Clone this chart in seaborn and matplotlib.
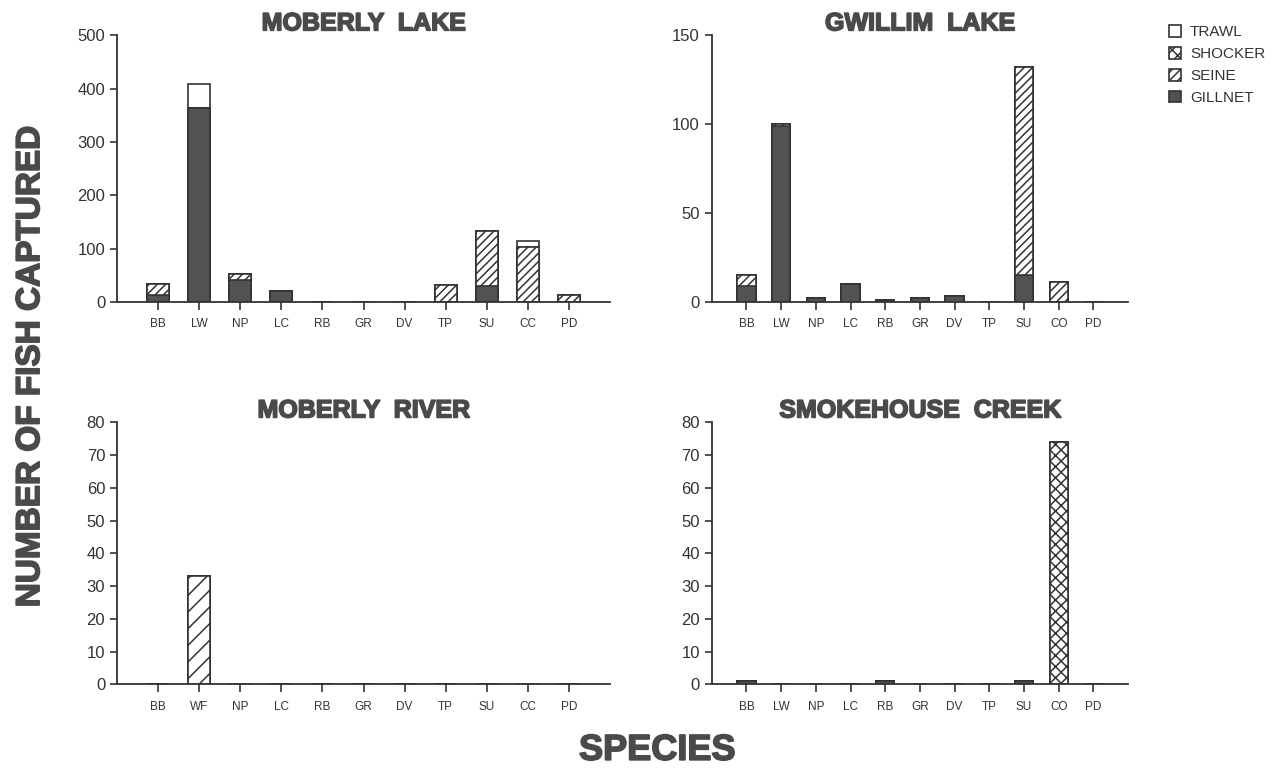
import pandas as pd
import matplotlib
matplotlib.use('Agg')
import matplotlib.pyplot as plt
import matplotlib.patheffects as pe
from matplotlib.patches import Patch
import seaborn as sns

# species codes on each panel
species_moberly_lake = ['BB', 'LW', 'NP', 'LC', 'RB', 'GR', 'DV', 'TP', 'SU', 'CC', 'PD']
species_gwillim_lake = ['BB', 'LW', 'NP', 'LC', 'RB', 'GR', 'DV', 'TP', 'SU', 'CO', 'PD']
species_moberly_river = ['BB', 'WF', 'NP', 'LC', 'RB', 'GR', 'DV', 'TP', 'SU', 'CC', 'PD']
species_smokehouse = ['BB', 'LW', 'NP', 'LC', 'RB', 'GR', 'DV', 'TP', 'SU', 'CO', 'PD']

# catches by gear
moberly_lake_gillnet = [12, 363, 41, 21, 0, 0, 0, 0, 30, 0, 0]
moberly_lake_seine = [21, 0, 12, 0, 0, 0, 0, 31, 102, 103, 12]
moberly_lake_shocker = [0, 0, 0, 0, 0, 0, 0, 0, 0, 0, 0]
moberly_lake_trawl = [0, 46, 0, 0, 0, 0, 0, 0, 0, 11, 0]

gwillim_gillnet = [9, 99, 2, 10, 1, 2, 3, 0, 15, 0, 0]
gwillim_seine = [6, 1, 0, 0, 0, 0, 0, 0, 117, 11, 0]
gwillim_shocker = [0, 0, 0, 0, 0, 0, 0, 0, 0, 0, 0]
gwillim_trawl = [0, 0, 0, 0, 0, 0, 0, 0, 0, 0, 0]

river_gillnet = [0, 0, 0, 0, 0, 0, 0, 0, 0, 0, 0]
river_seine = [0, 33, 0, 0, 0, 0, 0, 0, 0, 0, 0]
river_shocker = [0, 0, 0, 0, 0, 0, 0, 0, 0, 0, 0]
river_trawl = [0, 0, 0, 0, 0, 0, 0, 0, 0, 0, 0]

smokehouse_gillnet = [1, 0, 0, 0, 1, 0, 0, 0, 1, 0, 0]
smokehouse_seine = [0, 0, 0, 0, 0, 0, 0, 0, 0, 0, 0]
smokehouse_shocker = [0, 0, 0, 0, 0, 0, 0, 0, 0, 74, 0]
smokehouse_trawl = [0, 0, 0, 0, 0, 0, 0, 0, 0, 0, 0]

gears = ['GILLNET', 'SEINE', 'SHOCKER', 'TRAWL']

sns.set_style('ticks')
plt.rcParams['font.family'] = ['Liberation Sans', 'DejaVu Sans']
plt.rcParams['hatch.linewidth'] = 1.1

INK = '#333333'
DARK = '#525252'
HEAD = '#4a4a4a'
bold_fx = [pe.withStroke(linewidth=1.2, foreground=HEAD)]


def gear_styles(seine_hatch):
    return {
        'GILLNET': dict(color=DARK, hatch=None),
        'SEINE': dict(color='white', hatch=seine_hatch),
        'SHOCKER': dict(color='white', hatch='xxx'),
        'TRAWL': dict(color='white', hatch=None),
    }


def stacked_panel(ax, species, layers, title, ymax, ystep, seine_hatch='////'):
    df = pd.DataFrame(dict(zip(gears, layers)), index=species)
    cum = df.cumsum(axis=1)
    styles = gear_styles(seine_hatch)
    # draw from the top of the stack down so lower layers cover upper ones
    for gear in reversed(gears):
        d = pd.DataFrame({'species': species, 'n': cum[gear].values})
        st = styles[gear]
        sns.barplot(data=d, x='species', y='n', order=species, ax=ax,
                    color=st['color'], saturation=1, edgecolor=INK,
                    linewidth=1.2, hatch=st['hatch'], width=0.53,
                    errorbar=None)
    ax.set_xlim(-1, 11)
    ax.set_ylim(0, ymax)
    ax.set_yticks(range(0, ymax + 1, ystep))
    ax.set_xlabel('')
    ax.set_ylabel('')
    t = ax.set_title(title, fontsize=18, fontweight='bold', color=HEAD, pad=2)
    t.set_path_effects(bold_fx)
    sns.despine(ax=ax)
    for s in ['left', 'bottom']:
        ax.spines[s].set_color(INK)
        ax.spines[s].set_linewidth(1.3)
    ax.tick_params(axis='y', labelsize=12, colors=INK, length=5, width=1.2)
    ax.tick_params(axis='x', labelsize=8.5, colors=INK, length=6, width=1.2, pad=6)


fig = plt.figure(figsize=(12.76, 7.68), dpi=100)
ax1 = fig.add_axes([0.0917, 0.607, 0.3864, 0.347])
ax2 = fig.add_axes([0.5578, 0.607, 0.3263, 0.347])
ax3 = fig.add_axes([0.0917, 0.109, 0.3864, 0.341])
ax4 = fig.add_axes([0.5578, 0.109, 0.3263, 0.341])

stacked_panel(ax1, species_moberly_lake,
              [moberly_lake_gillnet, moberly_lake_seine, moberly_lake_shocker, moberly_lake_trawl],
              'MOBERLY  LAKE', 500, 100)
stacked_panel(ax2, species_gwillim_lake,
              [gwillim_gillnet, gwillim_seine, gwillim_shocker, gwillim_trawl],
              'GWILLIM  LAKE', 150, 50)
stacked_panel(ax3, species_moberly_river,
              [river_gillnet, river_seine, river_shocker, river_trawl],
              'MOBERLY  RIVER', 80, 10, seine_hatch='//')
stacked_panel(ax4, species_smokehouse,
              [smokehouse_gillnet, smokehouse_seine, smokehouse_shocker, smokehouse_trawl],
              'SMOKEHOUSE  CREEK', 80, 10)

styles = gear_styles('////')
handles = [Patch(facecolor=styles[g]['color'], edgecolor=INK, hatch=styles[g]['hatch'],
                 linewidth=1.2, label=g) for g in reversed(gears)]
fig.legend(handles=handles, loc='upper left', bbox_to_anchor=(0.905, 0.985),
           frameon=False, fontsize=11, handlelength=0.8, handleheight=0.8,
           handletextpad=0.6, labelspacing=0.5, labelcolor=INK)

fig.text(0.024, 0.523, 'NUMBER OF FISH CAPTURED', rotation=90, ha='center', va='center',
         fontsize=24, fontweight='bold', color=HEAD, path_effects=bold_fx)
fig.text(0.515, 0.023, 'SPECIES', ha='center', va='center',
         fontsize=26, fontweight='bold', color=HEAD, path_effects=bold_fx)

fig.savefig('out.png', dpi=100, facecolor='white')
